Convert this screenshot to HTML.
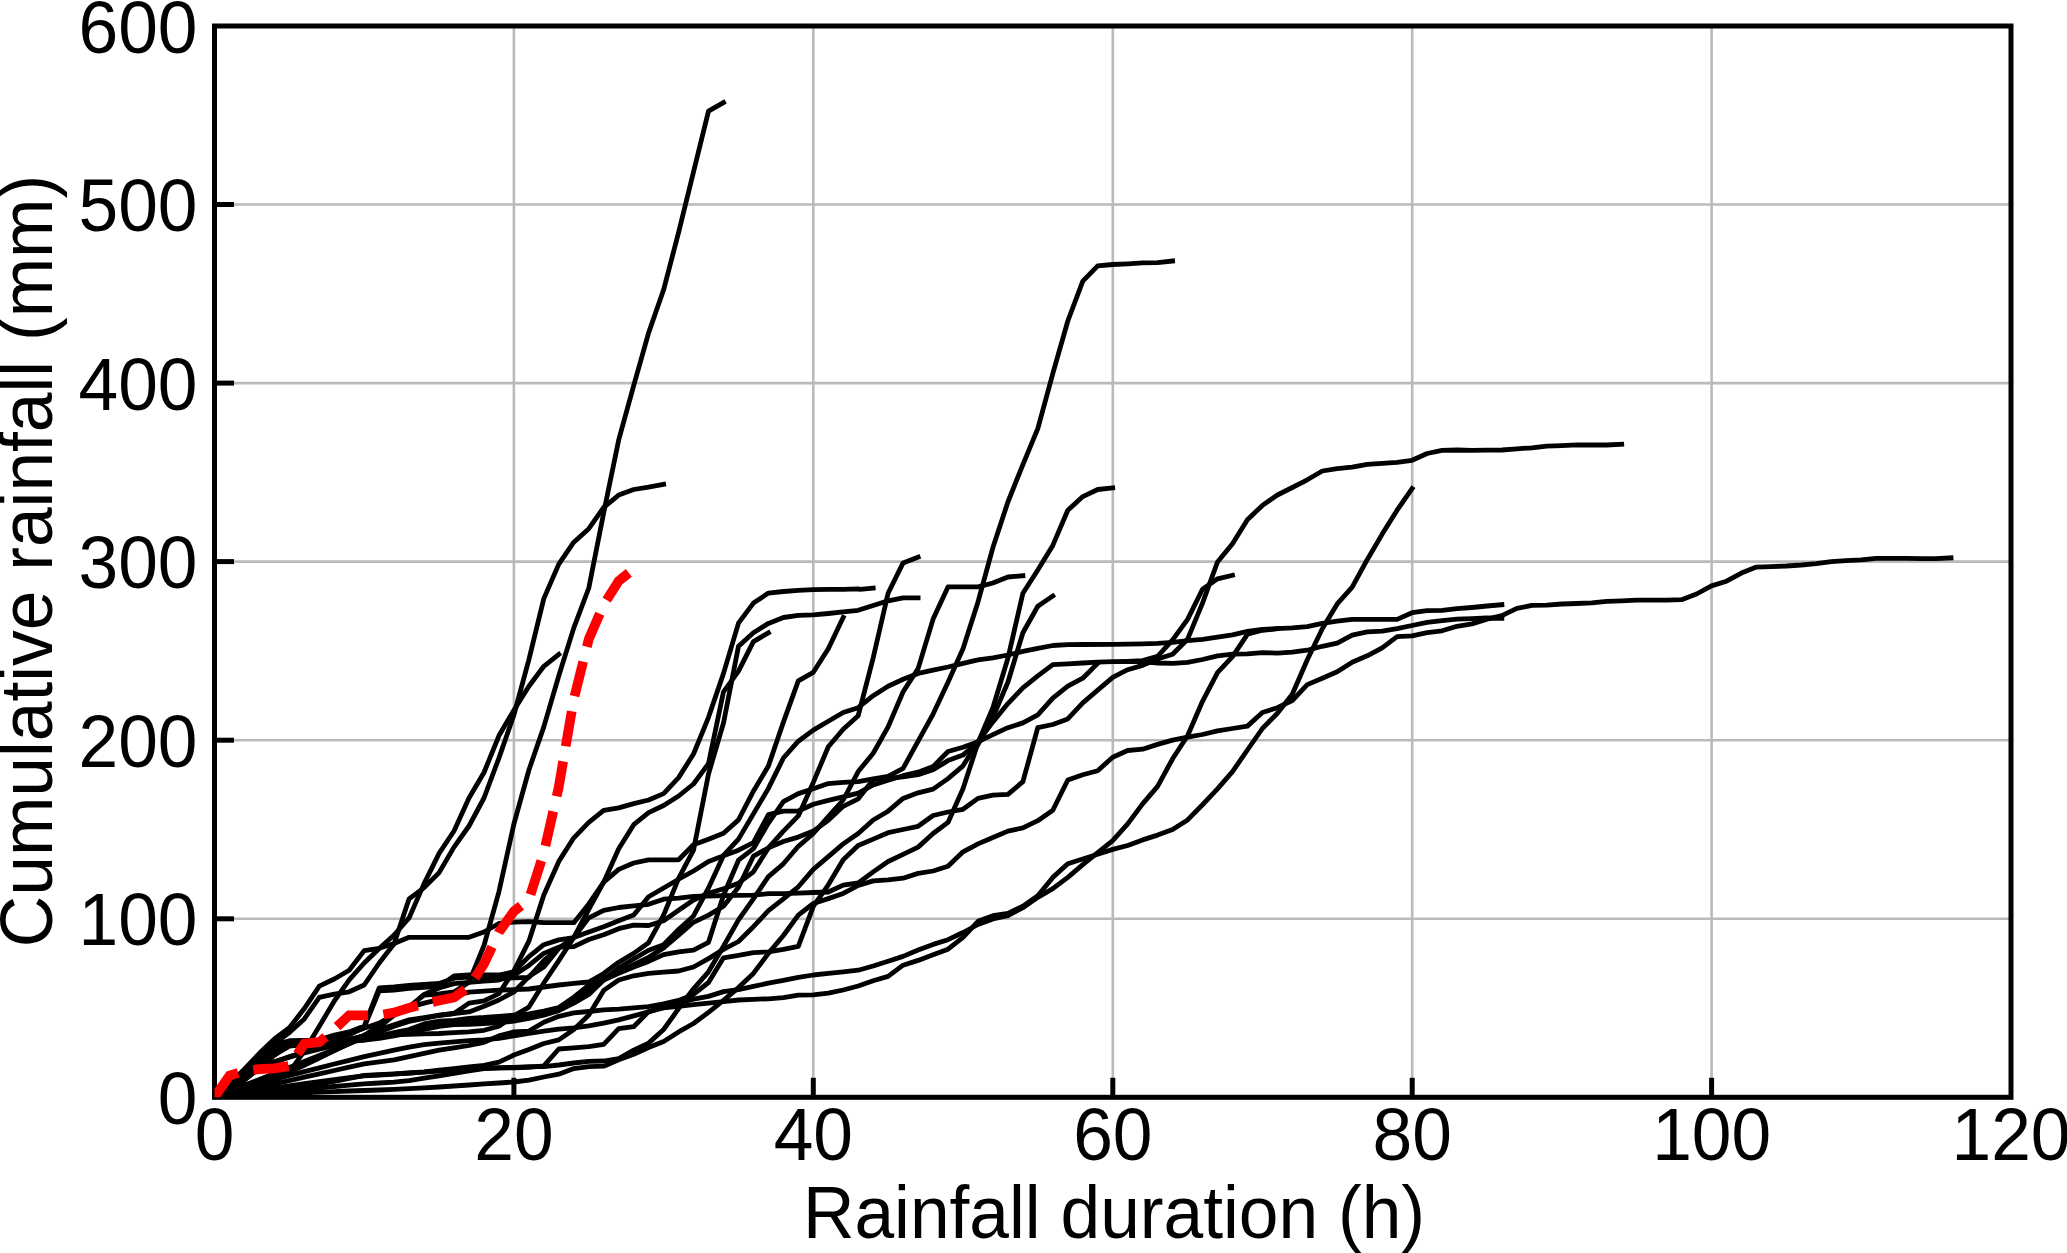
<!DOCTYPE html>
<html><head><meta charset="utf-8"><title>Cumulative rainfall</title>
<style>
html,body{margin:0;padding:0;background:#fff;}
body{width:2067px;height:1253px;overflow:hidden;}
svg{display:block;}
text{font-family:"Liberation Sans",sans-serif;fill:#000;}
</style></head><body>
<svg width="2067" height="1253" viewBox="0 0 2067 1253">
<rect x="0" y="0" width="2067" height="1253" fill="#ffffff"/>
<g stroke="#bababa" stroke-width="2.6" fill="none">
<line x1="513.9" y1="26.0" x2="513.9" y2="1097.3"/>
<line x1="813.3" y1="26.0" x2="813.3" y2="1097.3"/>
<line x1="1112.8" y1="26.0" x2="1112.8" y2="1097.3"/>
<line x1="1412.2" y1="26.0" x2="1412.2" y2="1097.3"/>
<line x1="1711.6" y1="26.0" x2="1711.6" y2="1097.3"/>
<line x1="214.5" y1="918.8" x2="2011.0" y2="918.8"/>
<line x1="214.5" y1="740.2" x2="2011.0" y2="740.2"/>
<line x1="214.5" y1="561.6" x2="2011.0" y2="561.6"/>
<line x1="214.5" y1="383.1" x2="2011.0" y2="383.1"/>
<line x1="214.5" y1="204.5" x2="2011.0" y2="204.5"/>
</g>
<g stroke="#000" stroke-width="5" fill="none">
<line x1="513.9" y1="1097.3" x2="513.9" y2="1077.8"/>
<line x1="813.3" y1="1097.3" x2="813.3" y2="1077.8"/>
<line x1="1112.8" y1="1097.3" x2="1112.8" y2="1077.8"/>
<line x1="1412.2" y1="1097.3" x2="1412.2" y2="1077.8"/>
<line x1="1711.6" y1="1097.3" x2="1711.6" y2="1077.8"/>
<line x1="214.5" y1="918.8" x2="234.0" y2="918.8"/>
<line x1="214.5" y1="740.2" x2="234.0" y2="740.2"/>
<line x1="214.5" y1="561.6" x2="234.0" y2="561.6"/>
<line x1="214.5" y1="383.1" x2="234.0" y2="383.1"/>
<line x1="214.5" y1="204.5" x2="234.0" y2="204.5"/>
</g>
<rect x="214.5" y="26.0" width="1796.5" height="1071.3" fill="none" stroke="#000" stroke-width="5"/>
<clipPath id="ax"><rect x="214.5" y="26.0" width="1796.5" height="1071.3"/></clipPath>
<g clip-path="url(#ax)" stroke="#000" stroke-width="4.8" fill="none" stroke-linejoin="round" stroke-linecap="square">
<polyline points="214.5,1097.3 229.5,1090.0 244.4,1080.0 259.4,1068.0 274.4,1055.0 289.4,1044.6 304.3,1043.0 319.3,1041.4 334.3,1036.6 349.2,1033.4 364.2,1028.3 379.2,1023.1 394.1,1014.7 409.1,1006.7 424.1,995.2 439.1,994.0 454.0,992.0 469.0,982.2 484.0,945.5 498.9,891.8 513.9,824.0 528.9,770.0 543.8,726.9 558.8,675.8 573.8,627.9 588.8,588.0 603.7,512.7 618.7,439.9 633.7,385.6 648.6,332.9 663.6,289.8 678.6,232.4 708.5,111.1 723.5,102.5"/>
<polyline points="214.5,1097.3 229.5,1080.8 244.4,1073.1 259.4,1067.1 274.4,1061.9 289.4,1057.3 304.3,1053.0 319.3,1049.1 334.3,1045.4 349.2,1042.0 364.2,1038.7 379.2,1035.9 394.1,1032.7 409.1,1029.5 424.1,1023.9 439.1,1021.1 454.0,1020.3 469.0,1018.3 484.0,1017.5 498.9,1016.3 513.9,1015.1 528.9,1013.9 543.8,1011.1 558.8,1007.5 573.8,997.2 588.8,985.2 603.7,980.0 618.7,973.4 633.7,967.0 648.6,961.4 663.6,954.6 678.6,951.8 693.5,950.2 708.5,942.3 723.5,895.2 738.5,860.2 753.4,848.7 768.4,823.1 783.4,801.6 798.3,793.6 813.3,788.8 828.3,783.6 843.2,782.4 858.2,781.6 873.2,778.8 888.1,776.4 903.1,768.4 918.1,741.2 933.1,714.1 948.0,682.2 963.0,648.7 978.0,601.9 992.9,547.6 1007.9,502.0 1022.9,464.6 1037.8,428.6 1052.8,373.7 1067.8,321.0 1082.8,281.1 1097.7,265.8 1112.7,264.5 1127.7,263.8 1142.6,262.9 1157.6,262.6 1172.6,261.0"/>
<polyline points="214.5,1097.3 229.5,1090.0 244.4,1080.0 259.4,1068.0 274.4,1055.0 289.4,1043.1 304.3,1041.5 319.3,1039.9 334.3,1035.1 349.2,1031.9 364.2,1026.1 379.2,987.8 394.1,987.0 409.1,985.4 424.1,984.3 439.1,983.4 454.0,978.2 469.0,977.1 484.0,977.9 498.9,978.2 513.9,977.9 528.9,977.4 543.8,960.6 558.8,947.9 573.8,937.5 588.8,917.9 603.7,910.3 618.7,907.5 633.7,905.9 648.6,904.3 663.6,899.2 678.6,898.2 693.5,896.4 708.5,896.0 723.5,895.6 738.5,895.3 753.4,895.2 768.4,893.7 783.4,893.7 798.3,893.2 813.3,892.5 828.3,892.0 843.2,885.1 858.2,883.0 873.2,871.9 888.1,861.5 903.1,854.3 918.1,847.1 933.1,833.5 948.0,822.4 963.0,788.8 978.0,742.8 992.9,707.7 1007.9,658.2 1022.9,593.3 1037.8,570.0 1052.8,545.4 1067.8,510.3 1082.8,496.6 1097.7,489.5 1112.7,487.9"/>
<polyline points="214.5,1097.3 229.5,1091.3 244.4,1085.3 259.4,1079.4 274.4,1073.4 289.4,1067.4 304.3,1061.4 319.3,1055.4 334.3,1049.4 349.2,1043.5 364.2,1037.5 379.2,1031.9 394.1,1026.3 409.1,1021.5 424.1,1018.3 439.1,1015.5 454.0,1013.5 469.0,1003.1 484.0,1000.8 498.9,993.6 513.9,970.8 528.9,941.2 543.8,894.9 558.8,861.4 573.8,837.8 588.8,822.3 603.7,810.3 618.7,807.9 633.7,803.6 648.6,800.0 663.6,793.6 678.6,777.6 693.5,754.0 708.5,717.3 723.5,673.4 738.5,623.1 753.4,603.1 768.4,593.1 783.4,591.5 798.3,590.4 813.3,589.6 828.3,589.4 843.2,589.3 858.2,588.9 860.0,589.3 873.2,588.0"/>
<polyline points="214.5,1097.3 229.5,1081.9 244.4,1073.9 259.4,1067.5 274.4,1061.9 289.4,1056.8 304.3,1052.1 319.3,1047.7 334.3,1043.6 349.2,1039.6 364.2,1035.9 379.2,1027.1 394.1,1015.1 409.1,1007.5 424.1,1003.1 439.1,999.6 454.0,996.0 469.0,992.1 484.0,991.2 498.9,990.2 513.9,989.6 528.9,989.0 543.8,987.0 558.8,985.0 573.8,983.4 588.8,982.0 603.7,973.5 618.7,962.2 633.7,953.4 648.6,942.7 663.6,915.1 678.6,878.4 693.5,850.2 708.5,774.0 723.5,723.0 738.5,646.3 753.4,632.7 768.4,623.4 783.4,617.5 798.3,615.4 813.3,614.8 828.3,613.5 843.2,611.9 858.2,610.3 873.2,605.5 888.1,600.8 903.1,597.9 918.1,597.9"/>
<polyline points="214.5,1097.3 229.5,1081.9 244.4,1073.9 259.4,1067.5 274.4,1061.9 289.4,1056.8 304.3,1052.1 319.3,1047.7 334.3,1043.6 349.2,1039.6 364.2,1035.9 379.2,1024.7 394.1,1015.1 409.1,1007.5 424.1,994.4 439.1,988.0 454.0,983.6 469.0,982.4 484.0,981.2 498.9,980.0 513.9,975.2 528.9,965.4 543.8,953.4 558.8,947.1 573.8,946.7 588.8,939.5 603.7,934.7 618.7,928.7 633.7,925.1 648.6,925.5 663.6,920.7 678.6,910.3 693.5,900.0 708.5,893.2 723.5,888.8 738.5,883.2 753.4,871.8 768.4,847.9 783.4,831.1 798.3,815.9 813.3,782.4 828.3,746.8 843.2,729.3 858.2,715.7 873.2,657.8 888.1,593.3 903.1,562.9 918.1,557.2"/>
<polyline points="214.5,1097.3 229.5,1084.6 244.4,1070.2 259.4,1055.9 274.4,1044.7 289.4,1040.7 304.3,1040.3 319.3,1040.3 334.3,1040.3 349.2,1040.3 364.2,1040.0 379.2,1038.3 394.1,1035.9 409.1,1032.7 424.1,1029.5 439.1,1026.3 454.0,1024.7 469.0,1024.3 484.0,1023.5 498.9,1022.7 513.9,1021.1 528.9,1018.3 543.8,1015.1 558.8,1010.7 573.8,1003.1 588.8,994.4 603.7,980.0 618.7,967.8 633.7,959.0 648.6,950.2 663.6,944.7 678.6,929.5 693.5,915.9 708.5,888.0 723.5,855.4 738.5,839.1 753.4,813.9 768.4,788.4 783.4,758.0 798.3,741.2 813.3,730.1 828.3,721.3 843.2,712.5 858.2,707.7 873.2,695.7 888.1,686.2 903.1,679.3 918.1,673.4 933.1,670.2 948.0,667.0 963.0,663.3 978.0,659.8 992.9,657.8 1007.9,655.0 1022.9,651.4 1037.8,648.3 1052.8,645.5 1067.8,644.7 1082.8,644.5 1112.7,644.3 1142.6,643.9 1157.6,643.4 1172.6,642.3 1187.6,640.7 1202.5,639.4 1217.5,637.2 1232.5,634.8 1247.4,631.4 1262.4,629.5 1277.4,628.7 1292.3,627.9 1307.3,626.6 1322.3,623.4 1337.2,621.2 1352.2,619.4 1397.1,619.4 1412.1,612.7 1427.1,610.7 1442.0,610.3 1457.0,608.7 1472.0,607.5 1487.0,606.0 1501.9,604.7"/>
<polyline points="214.5,1097.3 229.5,1094.6 244.4,1092.2 259.4,1090.0 274.4,1087.9 289.4,1085.8 304.3,1083.7 319.3,1081.7 334.3,1079.7 349.2,1077.7 364.2,1075.8 379.2,1075.0 394.1,1074.2 409.1,1073.0 424.1,1072.2 439.1,1071.0 454.0,1069.8 469.0,1069.0 484.0,1068.2 498.9,1067.6 513.9,1067.4 528.9,1066.6 543.8,1066.6 558.8,1065.0 573.8,1063.0 588.8,1061.4 603.7,1061.0 618.7,1058.6 633.7,1050.2 648.6,1043.1 663.6,1029.5 678.6,1008.7 693.5,988.8 708.5,971.8 723.5,946.3 738.5,919.9 753.4,898.8 768.4,876.6 783.4,863.8 798.3,846.3 813.3,833.5 828.3,816.7 843.2,800.0 858.2,771.6 873.2,753.2 888.1,726.9 903.1,691.8 918.1,668.6 933.1,619.1 948.0,586.9 978.0,586.9 992.9,583.0 1007.9,577.0 1022.9,575.7"/>
<polyline points="978.0,744.4 992.9,717.3 1007.9,682.2 1022.9,632.7 1037.8,606.3 1052.8,596.0"/>
<polyline points="214.5,1097.3 229.5,1090.0 244.4,1080.0 259.4,1068.0 274.4,1055.0 289.4,1046.1 304.3,1044.5 319.3,1042.9 334.3,1038.1 349.2,1034.9 364.2,1027.3 379.2,990.8 394.1,990.0 409.1,988.4 424.1,987.3 439.1,986.4 454.0,976.0 469.0,975.0 484.0,975.0 498.9,975.0 513.9,971.8 528.9,956.6 543.8,944.7 558.8,939.9 573.8,937.5 588.8,931.9 603.7,926.7 618.7,920.7 633.7,915.1 648.6,896.8 663.6,888.0 678.6,879.2 693.5,871.0 708.5,861.4 723.5,855.8 738.5,850.2 753.4,842.7 768.4,814.7 783.4,811.1 798.3,811.0 813.3,804.3 828.3,800.4 843.2,796.8 858.2,793.2 873.2,785.0 888.1,780.2 903.1,775.7 918.1,772.2 933.1,766.6 948.0,751.5 963.0,747.2 978.0,741.9"/>
<polyline points="214.5,1097.3 229.5,1087.8 244.4,1075.8 259.4,1062.3 274.4,1049.5 289.4,1042.3 304.3,1041.5 319.3,1041.5 334.3,1041.5 349.2,1041.5 364.2,1040.0 379.2,1037.1 394.1,1034.3 409.1,1031.5 424.1,1027.9 439.1,1025.5 454.0,1023.5 469.0,1021.5 484.0,1019.9 498.9,1019.1 513.9,1017.5 528.9,1016.1 543.8,1013.1 558.8,1009.1 573.8,1000.0 588.8,989.6 603.7,978.0 618.7,971.8 633.7,964.6 648.6,957.4 663.6,947.9 678.6,935.1 693.5,922.3 708.5,915.1 723.5,906.3 738.5,887.2 753.4,856.2 768.4,847.9 783.4,841.5 798.3,837.1 813.3,831.1 828.3,820.3 843.2,806.3 858.2,798.8 873.2,779.7 888.1,778.4 903.1,776.9 918.1,774.6 933.1,769.8 948.0,760.6 963.0,755.1 978.0,741.9"/>
<polyline points="214.5,1097.3 229.5,1096.4 244.4,1095.0 259.4,1093.2 274.4,1091.2 289.4,1089.0 304.3,1086.6 319.3,1084.0 334.3,1081.3 349.2,1078.4 364.2,1075.4 379.2,1074.6 394.1,1073.8 409.1,1073.0 424.1,1071.8 439.1,1070.2 454.0,1068.6 469.0,1067.0 484.0,1065.4 498.9,1062.2 513.9,1055.0 528.9,1049.4 543.8,1043.5 558.8,1039.9 573.8,1029.5 588.8,1015.1 603.7,990.4 618.7,980.0 633.7,975.8 648.6,973.4 663.6,972.2 678.6,971.0 693.5,967.0 708.5,958.6 723.5,949.4 738.5,941.5 753.4,926.7 768.4,910.7 783.4,898.8 798.3,886.8 813.3,869.4 828.3,856.6 843.2,843.9 858.2,833.5 873.2,820.0 888.1,811.2 903.1,798.4 918.1,792.8 933.1,789.1 948.0,778.6 963.0,765.8 978.0,741.9"/>
<polyline points="978.0,741.9 992.9,721.9 1007.9,703.6 1022.9,687.8 1037.8,675.8 1052.8,664.6 1067.8,663.8 1082.8,663.0 1097.7,662.2 1112.7,661.7 1127.7,661.4 1142.6,661.7 1157.6,663.0 1172.6,663.3 1187.6,662.4 1202.5,659.5 1217.5,655.8 1232.5,654.2 1247.4,653.8 1262.4,652.6 1277.4,653.1 1292.3,652.2 1307.3,650.2 1322.3,646.3 1337.2,643.1 1352.2,635.1 1367.2,631.9 1382.2,631.1 1397.1,628.7 1412.1,625.5 1427.1,622.3 1442.0,620.7 1457.0,619.1 1472.0,618.6 1487.0,618.0 1501.9,618.3"/>
<polyline points="978.0,741.9 992.9,734.7 1007.9,727.7 1022.9,722.9 1037.8,714.9 1052.8,698.1 1067.8,686.2 1082.8,678.2 1097.7,663.3"/>
<polyline points="214.5,1097.3 229.5,1094.0 244.4,1090.6 259.4,1087.3 274.4,1083.9 289.4,1080.6 304.3,1077.2 319.3,1073.9 334.3,1070.5 349.2,1067.2 364.2,1063.8 379.2,1061.8 394.1,1059.8 409.1,1056.6 424.1,1053.4 439.1,1050.2 454.0,1047.9 469.0,1045.5 484.0,1042.3 498.9,1035.9 513.9,1031.9 528.9,1031.1 543.8,1022.3 558.8,1016.3 573.8,1012.9 588.8,1011.5 603.7,1009.9 618.7,1009.1 633.7,1007.9 648.6,1006.7 663.6,1003.9 678.6,1000.4 693.5,994.4 708.5,982.5 723.5,957.8 738.5,955.4 753.4,952.6 768.4,951.8 783.4,949.4 798.3,946.3 813.3,906.3 828.3,884.8 843.2,859.8 858.2,845.5 873.2,839.1 888.1,832.7 903.1,829.5 918.1,826.3 933.1,815.5 948.0,812.0 963.0,809.3 978.0,798.4 992.9,795.2 1007.9,794.4 1022.9,781.6 1037.8,727.7 1052.8,724.5 1067.8,718.9 1082.8,702.9 1097.7,690.2 1112.7,677.4 1127.7,669.7 1142.6,665.4 1157.6,659.0 1172.6,654.2 1187.6,639.2 1202.5,603.1 1217.5,562.0 1232.5,543.7 1247.4,519.7 1262.4,505.4 1277.4,495.0 1292.3,487.5 1307.3,479.8 1322.3,471.0 1337.2,468.7 1352.2,467.1 1367.2,464.3 1382.2,463.4 1397.1,462.3 1412.1,460.3 1427.1,453.5 1442.0,450.3 1457.0,450.0 1472.0,450.4 1487.0,450.1 1501.9,450.0 1516.9,448.8 1531.9,447.8 1546.8,446.1 1561.8,445.6 1576.8,444.8 1591.7,445.0 1606.7,445.0 1621.7,444.2"/>
<polyline points="1127.7,661.4 1142.6,660.6 1157.6,656.3 1172.6,639.9 1187.6,619.4 1202.5,589.2 1217.5,578.8 1232.5,575.3"/>
<polyline points="214.5,1097.3 229.5,1096.2 244.4,1095.4 259.4,1094.7 274.4,1094.0 289.4,1093.4 304.3,1092.8 319.3,1092.2 334.3,1091.6 349.2,1091.0 364.2,1090.5 379.2,1090.0 394.1,1089.4 409.1,1088.6 424.1,1087.8 439.1,1087.0 454.0,1086.0 469.0,1085.0 484.0,1083.8 498.9,1083.0 513.9,1082.0 528.9,1080.2 543.8,1077.0 558.8,1074.2 573.8,1068.6 588.8,1066.6 603.7,1066.2 618.7,1059.8 633.7,1054.2 648.6,1047.5 663.6,1041.5 678.6,1031.9 693.5,1023.5 708.5,1012.3 723.5,1000.4 738.5,987.6 753.4,973.4 768.4,953.4 783.4,935.5 798.3,915.1 813.3,903.5 828.3,898.6 843.2,893.4 858.2,885.5 873.2,880.9 888.1,879.8 903.1,878.2 918.1,873.4 933.1,871.0 948.0,866.2 963.0,851.8 978.0,843.9 992.9,837.5 1007.9,831.1 1022.9,827.9 1037.8,820.7 1052.8,810.3 1067.8,780.0 1082.8,774.7 1097.7,770.7 1112.7,757.2 1127.7,750.5 1142.6,749.2 1157.6,744.4 1172.6,740.1 1187.6,737.2 1202.5,734.5 1217.5,730.9 1232.5,728.5 1247.4,726.1 1262.4,712.5 1277.4,707.7 1292.3,700.5 1307.3,684.6 1322.3,678.2 1337.2,671.8 1352.2,662.2 1367.2,655.8 1382.2,647.9 1397.1,636.7 1412.1,635.9 1427.1,632.7 1442.0,630.8 1457.0,626.3 1472.0,623.9 1487.0,619.2 1501.9,615.7 1516.9,608.4 1531.9,605.4 1546.8,605.1 1561.8,604.0 1576.8,603.5 1591.7,602.9 1606.7,601.3 1621.7,600.8 1636.7,600.2 1651.6,600.2 1666.6,600.2 1681.6,599.7 1696.5,594.0 1711.5,585.9 1726.5,581.2 1741.4,573.1 1756.4,567.1 1771.4,566.6 1786.4,566.0 1801.3,565.0 1816.3,563.6 1831.3,561.7 1846.2,560.6 1861.2,559.8 1876.2,558.4 1891.1,558.4 1906.1,558.4 1921.1,558.7 1936.1,558.7 1951.0,557.9"/>
<polyline points="214.5,1097.3 229.5,1092.2 244.4,1087.7 259.4,1083.5 274.4,1079.5 289.4,1075.5 304.3,1071.6 319.3,1067.8 334.3,1064.0 349.2,1060.3 364.2,1056.6 379.2,1053.4 394.1,1050.2 409.1,1047.1 424.1,1044.7 439.1,1043.1 454.0,1041.9 469.0,1040.7 484.0,1039.9 498.9,1038.3 513.9,1035.9 528.9,1033.5 543.8,1031.1 558.8,1029.1 573.8,1027.9 588.8,1025.9 603.7,1023.1 618.7,1019.9 633.7,1015.9 648.6,1011.9 663.6,1006.7 678.6,1003.1 693.5,999.2 708.5,996.4 723.5,991.6 738.5,989.6 753.4,986.4 768.4,983.2 783.4,980.4 798.3,977.4 813.3,975.0 828.3,973.4 843.2,971.8 858.2,970.2 873.2,966.0 888.1,961.2 903.1,956.4 918.1,950.0 933.1,944.4 948.0,939.7 963.0,932.5 978.0,924.5 992.9,918.9 1007.9,915.7 1022.9,907.7 1037.8,897.3 1052.8,888.6 1067.8,877.4 1082.8,864.6 1097.7,852.6 1112.7,840.7 1127.7,823.9 1142.6,803.9 1157.6,786.4 1172.6,758.8 1187.6,735.7 1202.5,701.3 1217.5,672.6 1232.5,656.6 1247.4,634.3 1262.4,630.3 1277.4,628.7"/>
<polyline points="214.5,1097.3 229.5,1095.9 244.4,1094.6 259.4,1093.2 274.4,1091.9 289.4,1090.5 304.3,1089.2 319.3,1087.8 334.3,1086.5 349.2,1085.1 364.2,1083.8 379.2,1083.0 394.1,1082.2 409.1,1080.6 424.1,1078.2 439.1,1075.8 454.0,1073.4 469.0,1071.0 484.0,1068.6 498.9,1068.2 513.9,1067.8 528.9,1067.4 543.8,1065.8 558.8,1049.0 573.8,1047.9 588.8,1046.7 603.7,1044.3 618.7,1028.7 633.7,1026.7 648.6,1011.6 663.6,1007.8 678.6,1006.3 693.5,1004.7 708.5,1003.1 723.5,1001.6 738.5,1000.0 753.4,999.3 768.4,998.8 783.4,997.6 798.3,995.2 813.3,994.8 828.3,993.2 843.2,990.0 858.2,986.0 873.2,980.8 888.1,976.4 903.1,965.2 918.1,960.4 933.1,954.8 948.0,949.2 963.0,937.3 978.0,921.3 992.9,915.7 1007.9,913.3 1022.9,906.1 1037.8,895.7 1052.8,877.4 1067.8,863.8 1082.8,859.0 1097.7,854.2 1112.7,849.4 1127.7,845.5 1142.6,839.9 1157.6,835.1 1172.6,829.5 1187.6,819.9 1202.5,804.7 1217.5,788.8 1232.5,771.6 1247.4,750.0 1262.4,728.5 1277.4,713.3 1292.3,694.2 1307.3,659.8 1322.3,628.7 1337.2,603.9 1352.2,587.2 1367.2,559.7 1382.2,534.1 1397.1,510.2 1412.1,488.6"/>
<polyline points="214.5,1097.3 229.5,1093.0 244.4,1087.8 259.4,1082.2 274.4,1076.2 289.4,1070.1 304.3,1063.7 319.3,1057.2 334.3,1050.5 349.2,1043.7 364.2,1036.8 379.2,1035.7 394.1,1034.9 409.1,1034.3 424.1,1033.9 439.1,1033.5 454.0,1032.7 469.0,1031.9 484.0,1030.3 498.9,1026.3 513.9,1015.9 528.9,1007.1 543.8,983.0 558.8,960.6 573.8,937.5 588.8,909.3 603.7,882.2 618.7,848.7 633.7,824.7 648.6,812.7 663.6,805.5 678.6,796.0 693.5,784.0 708.5,763.6 723.5,691.8 738.5,671.2 753.4,641.6 768.4,632.8"/>
<polyline points="214.5,1097.3 229.5,1083.6 244.4,1069.2 259.4,1053.3 274.4,1038.9 289.4,1027.7 304.3,1008.6 319.3,986.2 334.3,979.0 349.2,970.2 364.2,950.6 379.2,948.3 394.1,943.5 409.1,937.3 424.1,937.3 439.1,937.3 454.0,937.3 469.0,937.3 484.0,932.0 498.9,923.5 513.9,922.1 528.9,921.7 543.8,922.7 558.8,922.7 573.8,922.7 588.8,903.9 603.7,882.2 618.7,869.4 633.7,863.0 648.6,859.8 663.6,859.8 678.6,859.8 693.5,844.7 708.5,839.2 723.5,833.3 738.5,819.9 753.4,791.2 768.4,766.0 783.4,722.1 798.3,680.9 813.3,672.3 828.3,648.7 843.2,617.5"/>
<polyline points="214.5,1097.3 229.5,1094.2 244.4,1089.6 259.4,1084.3 274.4,1078.4 289.4,1072.0 304.3,1065.3 319.3,1058.2 334.3,1050.7 349.2,1043.0 364.2,1035.1 379.2,1029.5 394.1,1024.7 409.1,1019.9 424.1,1017.5 439.1,1015.1 454.0,1013.5 469.0,1011.9 484.0,1006.3 498.9,1000.0 513.9,992.0 528.9,976.6 543.8,967.0 558.8,948.3"/>
<polyline points="214.5,1097.3 229.5,1085.2 244.4,1072.4 259.4,1058.1 274.4,1043.7 289.4,1032.5 304.3,1018.9 319.3,997.4 334.3,994.2 349.2,991.8 364.2,985.0 379.2,963.0 394.1,943.8 409.1,898.8 424.1,887.6 439.1,872.6 454.0,847.1 469.0,826.0 484.0,798.0 498.9,758.1 513.9,715.0 528.9,659.6 543.8,598.6 558.8,564.1 573.8,542.2 588.8,528.7 603.7,507.4 618.7,495.1 633.7,489.5 648.6,487.1 663.6,484.3"/>
<polyline points="214.5,1097.3 229.5,1094.8 244.4,1090.8 259.4,1086.0 274.4,1080.4 289.4,1072.2 304.3,1051.1 319.3,1026.3 334.3,1001.0 349.2,979.8 364.2,963.0 379.2,948.6 394.1,935.0 409.1,917.9 424.1,883.6 439.1,853.4 454.0,831.0 469.0,798.0 484.0,772.5 498.9,735.8 513.9,710.2 528.9,686.3 543.8,666.3 558.8,654.4"/>
</g>
<polyline clip-path="url(#ax)" fill="none" stroke="#ff0000" stroke-width="9.7" stroke-dasharray="35.5 15.4" stroke-dashoffset="0" stroke-linejoin="miter" points="214.5,1097.3 229.5,1075.6 244.5,1071.1 259.5,1069.2 274.3,1068.4 289.3,1066.0 304.4,1043.7 319.4,1042.1 334.2,1029.3 349.2,1015.3 364.2,1015.3 379.2,1015.3 394.1,1012.6 409.1,1007.8 424.1,1003.8 439.1,1000.6 454.0,997.4 469.0,987.0 484.0,963.9 499.0,931.9 514.0,911.2 528.8,900.0 543.9,852.6 558.7,787.2 573.7,699.7 588.8,639.1 603.8,604.5 618.7,581.0 633.7,569.0"/>
<g font-size="71.3">
<text transform="translate(214.5,1160.2) scale(1,1.042)" text-anchor="middle">0</text>
<text transform="translate(513.9,1160.2) scale(1,1.042)" text-anchor="middle">20</text>
<text transform="translate(813.3,1160.2) scale(1,1.042)" text-anchor="middle">40</text>
<text transform="translate(1112.8,1160.2) scale(1,1.042)" text-anchor="middle">60</text>
<text transform="translate(1412.2,1160.2) scale(1,1.042)" text-anchor="middle">80</text>
<text transform="translate(1711.6,1160.2) scale(1,1.042)" text-anchor="middle">100</text>
<text transform="translate(2011.0,1160.2) scale(1,1.042)" text-anchor="middle">120</text>
<text transform="translate(197.5,1123.9) scale(1,1.042)" text-anchor="end">0</text>
<text transform="translate(197.5,945.4) scale(1,1.042)" text-anchor="end">100</text>
<text transform="translate(197.5,766.8) scale(1,1.042)" text-anchor="end">200</text>
<text transform="translate(197.5,588.2) scale(1,1.042)" text-anchor="end">300</text>
<text transform="translate(197.5,409.7) scale(1,1.042)" text-anchor="end">400</text>
<text transform="translate(197.5,231.1) scale(1,1.042)" text-anchor="end">500</text>
<text transform="translate(197.5,52.6) scale(1,1.042)" text-anchor="end">600</text>
<text transform="translate(1114.0,1237.9) scale(1,1.042)" text-anchor="middle">Rainfall duration (h)</text>
<text transform="translate(52.3,561.0) rotate(-90) scale(1,1.042)" text-anchor="middle">Cumulative rainfall (mm)</text>
</g>
</svg>
</body></html>
